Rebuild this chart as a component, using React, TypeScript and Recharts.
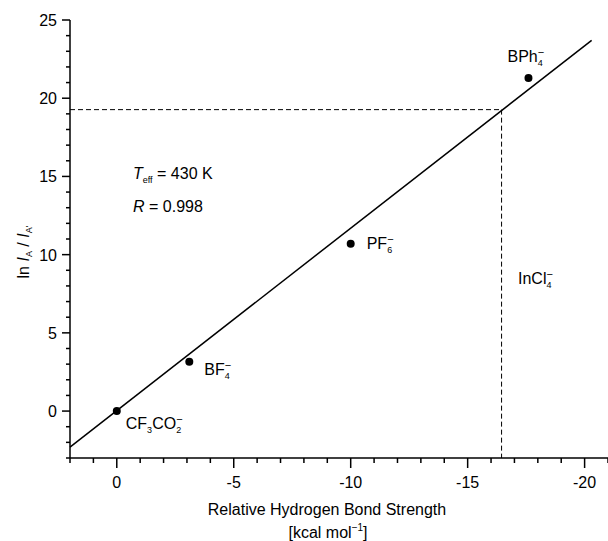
import React from "react";
import {
  ComposedChart,
  Scatter,
  XAxis,
  YAxis,
  ReferenceLine,
  Customized,
} from "recharts";

// anions and their values
const anions = ["CF3CO2", "BF4", "PF6", "BPh4"];
const hbStrength = [0, -3.1, -10.0, -17.6];
const lnRatio = [0.0, 3.15, 10.7, 21.3];

// linear fit end points
const fitX = [2, -20.3];
const fitY = [-2.3, 23.7];

// InCl4- read-out (dashed guide lines)
const inCl4Strength = -16.45;
const inCl4Ratio = 19.27;

const xTicks = [2, 1, 0, -1, -2, -3, -4, -5, -6, -7, -8, -9, -10, -11, -12, -13, -14, -15, -16, -17, -18, -19, -20, -21];
const xMajor = [0, -5, -10, -15, -20];
const yTicks = [-3, -2, -1, 0, 1, 2, 3, 4, 5, 6, 7, 8, 9, 10, 11, 12, 13, 14, 15, 16, 17, 18, 19, 20, 21, 22, 23, 24, 25];
const yMajor = [0, 5, 10, 15, 20, 25];

const FONT = "'Liberation Sans', Arial, sans-serif";

const data = anions.map((name, i) => ({ name, x: hbStrength[i], y: lnRatio[i] }));

// label offset from each point, in pixels
const labelOffset: Record<string, [number, number]> = {
  CF3CO2: [9, 18],
  BF4: [15, 13],
  PF6: [16, 5],
  BPh4: [-21, -16],
};

const Sub = ({ children }: { children: React.ReactNode }) => (
  <tspan dy={4} fontSize={9}>{children}</tspan>
);

// subscript followed by a superscript minus stacked above it
const SubMinus = ({ sub }: { sub: string }) => (
  <>
    <tspan dy={4} fontSize={9}>{sub}</tspan>
    <tspan dx={-5} dy={-10} fontSize={11}>−</tspan>
  </>
);

const formula = (name: string) => {
  switch (name) {
    case "CF3CO2":
      return (
        <>
          CF<Sub>3</Sub>
          <tspan dy={-4}>CO</tspan>
          <SubMinus sub="2" />
        </>
      );
    case "BF4":
      return (
        <>
          BF<SubMinus sub="4" />
        </>
      );
    case "PF6":
      return (
        <>
          PF<SubMinus sub="6" />
        </>
      );
    case "BPh4":
      return (
        <>
          BPh<SubMinus sub="4" />
        </>
      );
    default:
      return name;
  }
};

const Point = (props: any) => {
  const { cx, cy, payload } = props;
  const [dx, dy] = labelOffset[payload.name] || [10, 0];
  return (
    <g>
      <circle cx={cx} cy={cy} r={4} fill="#000" />
      <text x={cx + dx} y={cy + dy} fontSize={16} fontFamily={FONT} fill="#000">
        {formula(payload.name)}
      </text>
    </g>
  );
};

const XTick = (props: any) => {
  const { x, y, payload } = props;
  const major = xMajor.includes(payload.value);
  return (
    <g>
      <line x1={x} x2={x} y1={y} y2={y + (major ? 10 : 5)} stroke="#000" strokeWidth={1.5} />
      {major && (
        <text x={x} y={y + 30} textAnchor="middle" fontSize={16} fontFamily={FONT} fill="#000">
          {payload.value}
        </text>
      )}
    </g>
  );
};

const YTick = (props: any) => {
  const { x, y, payload } = props;
  const major = yMajor.includes(payload.value);
  return (
    <g>
      <line x1={x} x2={x - (major ? 8 : 4)} y1={y} y2={y} stroke="#000" strokeWidth={1.5} />
      {major && (
        <text x={x - 13} y={y + 6} textAnchor="end" fontSize={16} fontFamily={FONT} fill="#000">
          {payload.value}
        </text>
      )}
    </g>
  );
};

const Annotations = () => (
  <g fontFamily={FONT} fontSize={16} fill="#000">
    <text x={133} y={179}>
      <tspan fontStyle="italic">T</tspan>
      <tspan dy={4} fontSize={9}>eff</tspan>
      <tspan dy={-4}> = 430 K</tspan>
    </text>
    <text x={133} y={212}>
      <tspan fontStyle="italic">R</tspan> = 0.998
    </text>
    <text x={518} y={284}>
      InCl<SubMinus sub="4" />
    </text>
    <text transform="translate(29,252) rotate(-90)" textAnchor="middle">
      ln <tspan fontStyle="italic">I</tspan>
      <tspan dy={3} fontSize={9}>A</tspan>
      <tspan dy={-3}> / </tspan>
      <tspan fontStyle="italic">I</tspan>
      <tspan dy={3} fontSize={9}>A'</tspan>
    </text>
    <text x={327} y={515} textAnchor="middle">
      Relative Hydrogen Bond Strength
    </text>
    <text x={328} y={538} textAnchor="middle">
      [kcal mol<tspan dy={-7} fontSize={10}>−1</tspan>
      <tspan dy={7}>]</tspan>
    </text>
  </g>
);

export default function App() {
  return (
    <div style={{ position: "absolute", left: 0, top: 0, background: "#fff" }}>
      <ComposedChart
        width={608}
        height={541}
        data={data}
        margin={{ top: 20, right: 0, bottom: 23, left: 10 }}
      >
        <XAxis
          type="number"
          dataKey="x"
          domain={[-21, 2]}
          reversed
          ticks={xTicks}
          interval={0}
          allowDataOverflow
          height={60}
          tickSize={0}
          tickMargin={0}
          tickLine={false}
          axisLine={{ stroke: "#000", strokeWidth: 1.5 }}
          tick={<XTick />}
        />
        <YAxis
          type="number"
          dataKey="y"
          domain={[-3, 25]}
          ticks={yTicks}
          interval={0}
          allowDataOverflow
          width={60}
          tickSize={0}
          tickMargin={0}
          tickLine={false}
          axisLine={{ stroke: "#000", strokeWidth: 1.5 }}
          tick={<YTick />}
        />
        <ReferenceLine
          segment={[
            { x: fitX[0], y: fitY[0] },
            { x: fitX[1], y: fitY[1] },
          ]}
          stroke="#000"
          strokeWidth={1.5}
        />
        <ReferenceLine
          segment={[
            { x: 2, y: inCl4Ratio },
            { x: inCl4Strength, y: inCl4Ratio },
          ]}
          stroke="#000"
          strokeWidth={1}
          strokeDasharray="5 3"
        />
        <ReferenceLine
          segment={[
            { x: inCl4Strength, y: inCl4Ratio },
            { x: inCl4Strength, y: -3 },
          ]}
          stroke="#000"
          strokeWidth={1}
          strokeDasharray="5 3"
        />
        <Scatter data={data} dataKey="y" shape={<Point />} isAnimationActive={false} />
        <Customized component={Annotations} />
      </ComposedChart>
    </div>
  );
}
